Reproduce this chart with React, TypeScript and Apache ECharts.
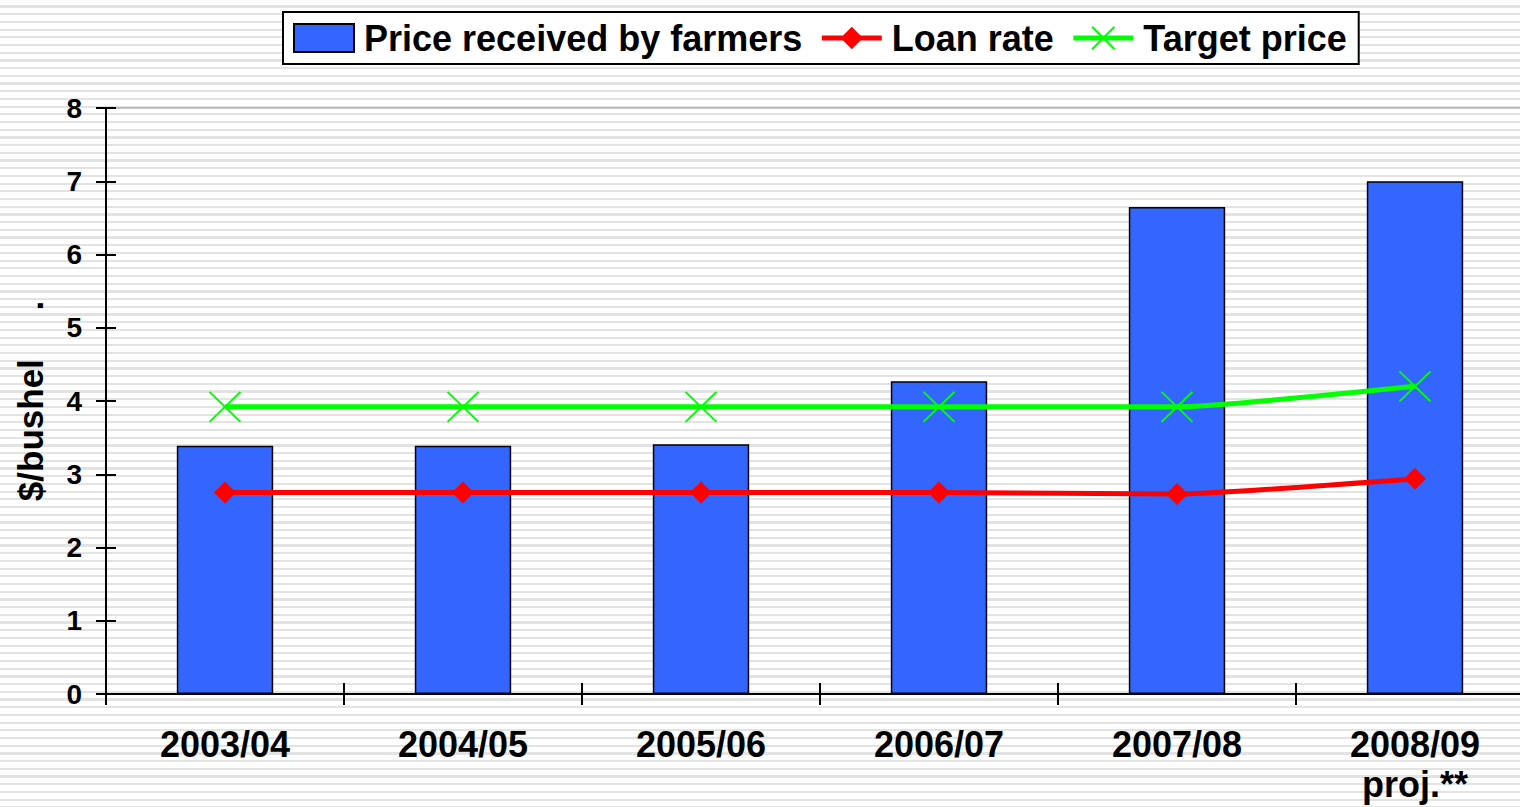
import React, { useEffect, useRef } from "react";
import * as echarts from "echarts";

const categories = ["2003/04", "2004/05", "2005/06", "2006/07", "2007/08", "2008/09\nproj.**"];
const priceReceived = [3.39, 3.39, 3.41, 4.27, 6.65, 7.0];
const loanRate = [2.75, 2.75, 2.75, 2.75, 2.73, 2.94];
const targetPrice = [3.92, 3.92, 3.92, 3.92, 3.92, 4.2];
const yTicks = [0, 1, 2, 3, 4, 5, 6, 7, 8];

const FONT = "'Liberation Sans', Arial, Helvetica, sans-serif";

export default function App() {
  const ref = useRef<HTMLDivElement>(null);
  useEffect(() => {
    document.body.style.margin = "0";
    document.body.style.overflow = "hidden";
    const chart = echarts.init(ref.current!, undefined, { renderer: "svg" });
    const yMin = yTicks[0];
    const yMax = yTicks[yTicks.length - 1];
    chart.setOption({
      animation: false,
      textStyle: { fontFamily: FONT },
      legend: {
        left: 283,
        top: 12,
        padding: [8, 12, 8, 10],
        itemGap: 17,
        itemWidth: 60,
        itemHeight: 28,
        backgroundColor: "#ffffff",
        borderColor: "#000000",
        borderWidth: 2,
        textStyle: { fontFamily: FONT, fontWeight: "bold", fontSize: 36, color: "#000", padding: [0, 0, 0, 5] },
        data: [
          { name: "Price received by farmers", icon: "rect" },
          { name: "Loan rate", lineStyle: { width: 5 } },
          { name: "Target price", lineStyle: { width: 5 } },
        ],
      },
      grid: {
        left: 106,
        right: 6,
        top: 108,
        bottom: 113,
        outerBoundsMode: "none",
        containLabel: false,
        show: true,
        borderColor: "#8a8a8a",
        borderWidth: 1,
        backgroundColor: "transparent",
      },
      xAxis: [
        {
          type: "category",
          data: categories,
          axisLine: { lineStyle: { color: "#000", width: 2 } },
          axisTick: { show: true, length: 11, lineStyle: { color: "#000", width: 2 } },
          axisLabel: {
            color: "#000",
            fontFamily: FONT,
            fontWeight: "bold",
            fontSize: 36,
            lineHeight: 40,
            margin: 30,
            interval: 0,
          },
        },
        {
          type: "category",
          data: categories,
          position: "bottom",
          axisLine: { show: false },
          axisTick: { show: true, inside: true, length: 11, lineStyle: { color: "#000", width: 2 } },
          axisLabel: { show: false },
        },
      ],
      yAxis: [
        {
          type: "value",
          min: yMin,
          max: yMax,
          interval: 1,
          name: "$/bushel     .",
          nameLocation: "middle",
          nameRotate: 90,
          nameGap: 58,
          nameTextStyle: { color: "#000", fontFamily: FONT, fontWeight: "bold", fontSize: 35 },
          axisLine: { show: true, lineStyle: { color: "#000", width: 2 } },
          axisTick: { show: true, length: 10, lineStyle: { color: "#000", width: 2 } },
          axisLabel: { color: "#000", fontFamily: FONT, fontWeight: "bold", fontSize: 28, margin: 24 },
          splitLine: { show: false },
        },
        {
          type: "value",
          min: yMin,
          max: yMax,
          interval: 1,
          position: "left",
          axisLine: { show: false },
          axisTick: { show: true, inside: true, length: 10, lineStyle: { color: "#000", width: 2 } },
          axisLabel: { show: false },
          splitLine: { show: false },
        },
      ],
      series: [
        {
          name: "Price received by farmers",
          type: "bar",
          data: priceReceived,
          barWidth: "40.5%",
          itemStyle: { color: "#3366FF", borderColor: "#000", borderWidth: 1.5 },
        },
        {
          name: "Loan rate",
          type: "line",
          data: loanRate,
          smooth: 0.15,
          symbol: "diamond",
          symbolSize: 22,
          lineStyle: { color: "#FF0000", width: 5 },
          itemStyle: { color: "#FF0000" },
          z: 3,
        },
        {
          name: "Target price",
          type: "line",
          data: targetPrice,
          smooth: 0.15,
          symbol: "path://M0,0L10,10M10,0L0,10",
          symbolSize: [31, 30],
          lineStyle: { color: "#00FF00", width: 5 },
          itemStyle: { color: "#00FF00", borderColor: "#00FF00", borderWidth: 2 },
          z: 4,
        },
      ],
    });
    return () => chart.dispose();
  }, []);

  return (
    <div
      style={{
        position: "absolute",
        left: 0,
        top: 0,
        width: 1520,
        height: 807,
        overflow: "hidden",
        background:
          "repeating-linear-gradient(to bottom, #ffffff 0px, #ffffff 5.5px, #e3e3e3 5.5px, #e3e3e3 7.7px)",
      }}
    >
      <div ref={ref} style={{ width: 1540, height: 807 }} />
    </div>
  );
}
